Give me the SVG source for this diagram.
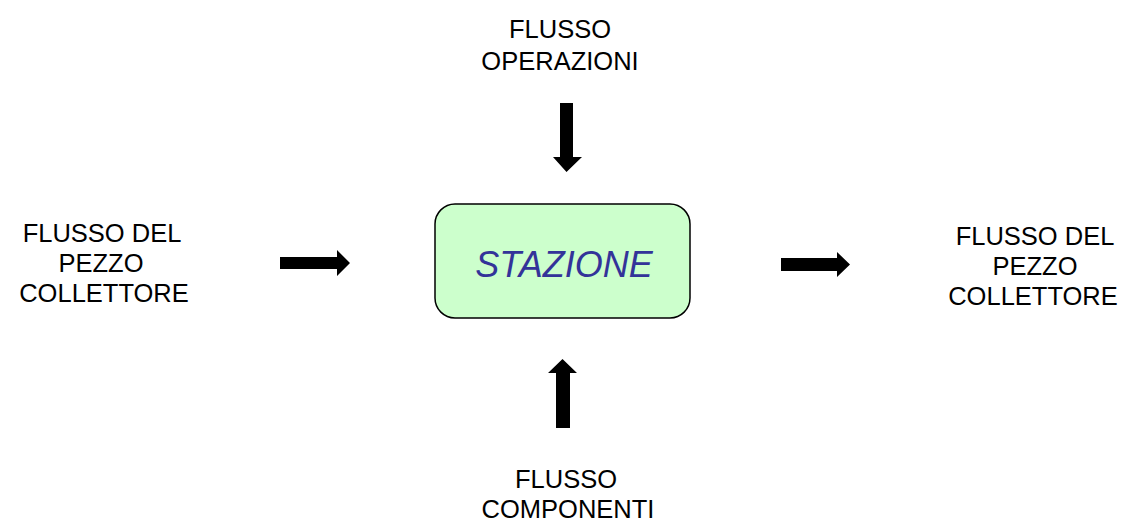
<svg xmlns="http://www.w3.org/2000/svg" width="1123" height="521" viewBox="0 0 1123 521">
  <style>
    .lbl { font-family: "Liberation Sans", Arial, sans-serif; font-size: 25.5px; fill: #000; text-anchor: middle; }
    .station { font-family: "Liberation Sans", Arial, sans-serif; font-size: 36px; font-style: italic; fill: #333399; text-anchor: middle; }
    .box { fill: #ccffcc; stroke: #000; stroke-width: 1.5; }
    .arrow { fill: #000; }
  </style>
  <rect width="1123" height="521" fill="#fff"/>

  <!-- central station -->
  <g id="stazione">
    <rect class="box" x="435" y="204" width="255" height="114" rx="20" ry="20"/>
    <text class="station" x="564" y="277">STAZIONE</text>
  </g>

  <!-- flows: labels -->
  <g id="flusso-pezzo-in">
    <text class="lbl" x="102" y="242">FLUSSO DEL</text>
    <text class="lbl" x="101" y="272">PEZZO</text>
    <text class="lbl" x="104" y="302">COLLETTORE</text>
  </g>
  <g id="flusso-pezzo-out">
    <text class="lbl" x="1035" y="245">FLUSSO DEL</text>
    <text class="lbl" x="1035" y="275">PEZZO</text>
    <text class="lbl" x="1033" y="305">COLLETTORE</text>
  </g>
  <g id="flusso-operazioni">
    <text class="lbl" x="560" y="38">FLUSSO</text>
    <text class="lbl" x="560" y="70">OPERAZIONI</text>
  </g>
  <g id="flusso-componenti">
    <text class="lbl" x="566" y="488">FLUSSO</text>
    <text class="lbl" x="568" y="518">COMPONENTI</text>
  </g>

  <!-- block arrows -->
  <g id="connectors">
    <polygon class="arrow" points="280,257 337,257 337,250 350,263 337,276 337,269 280,269"/>
    <polygon class="arrow" points="781,258 837,258 837,252 850,264.5 837,277 837,271 781,271"/>
    <polygon class="arrow" points="560,103 573,103 573,157 582,157 566.5,172 553,157 560,157"/>
    <polygon class="arrow" points="556,428 570,428 570,373 577,373 562.5,359 548,373 556,373"/>
  </g>
</svg>
